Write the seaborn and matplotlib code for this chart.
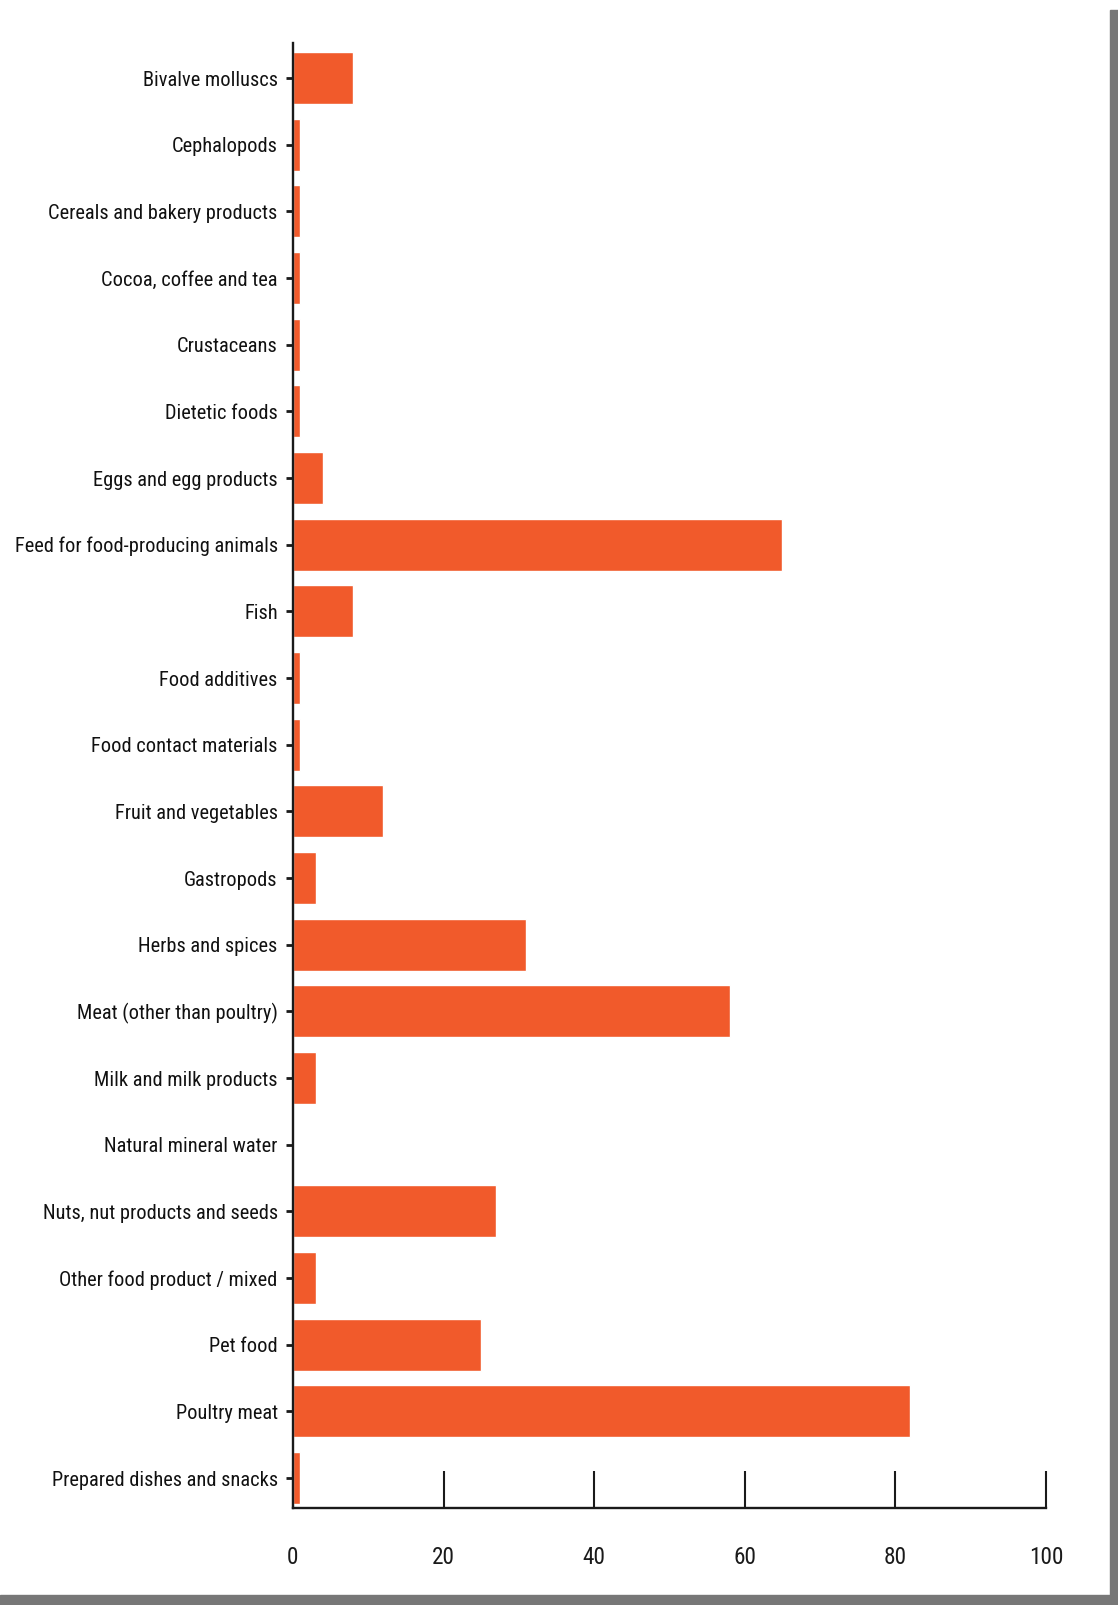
import matplotlib
matplotlib.use("Agg")
import matplotlib.pyplot as plt
from matplotlib import font_manager
import seaborn as sns
import pandas as pd
from matplotlib.patches import Rectangle

categories = [
    "Bivalve molluscs", "Cephalopods", "Cereals and bakery products",
    "Cocoa, coffee and tea", "Crustaceans", "Dietetic foods",
    "Eggs and egg products", "Feed for food-producing animals", "Fish",
    "Food additives", "Food contact materials", "Fruit and vegetables",
    "Gastropods", "Herbs and spices", "Meat (other than poultry)",
    "Milk and milk products", "Natural mineral water",
    "Nuts, nut products and seeds", "Other food product / mixed",
    "Pet food", "Poultry meat", "Prepared dishes and snacks",
]
values = [8, 1, 1, 1, 1, 1, 4, 65, 8, 1, 1, 12, 3, 31, 58, 3, 0, 27, 3, 25, 82, 1]
x_ticks = [0, 20, 40, 60, 80, 100]

df = pd.DataFrame({"category": categories, "value": values})

sns.set_theme(style="white")

# choose a condensed face if one is installed
names = {f.name for f in font_manager.fontManager.ttflist}
family = "Liberation Sans"
for cand in ["Roboto Condensed", "Liberation Sans Narrow", "Open Sans Condensed",
             "Noto Sans Condensed"]:
    if cand in names:
        family = cand
        break

plt.rcParams["font.family"] = [family, "DejaVu Sans"]

fig = plt.figure(figsize=(11.18, 16.05), dpi=100)
ax = fig.add_axes([0.262, 0.0604, 0.6736, 0.9128])

sns.barplot(data=df, x="value", y="category", orient="h", color="#F15A2B",
            saturation=1, width=0.78, ax=ax)

ax.set_xlim(0, 100)
ax.set_ylim(len(categories) - 1 + 0.45, -0.525)
ax.set_xticks(x_ticks)
ax.set_xticklabels([str(t) for t in x_ticks])
ax.set_xlabel("")
ax.set_ylabel("")

for s in ["top", "right"]:
    ax.spines[s].set_visible(False)
for s in ["left", "bottom"]:
    ax.spines[s].set_color("#1a1a1a")
    ax.spines[s].set_linewidth(1.7)

# fit label size so the longest label spans about 263 px
renderer = fig.canvas.get_renderer()
probe = fig.text(0, 0, "Feed for food-producing animals", fontsize=20)
w = probe.get_window_extent(renderer).width
probe.remove()
lsize = min(18, 20 * 262 / w)

ax.tick_params(axis="x", direction="in", length=27, width=1.5, color="#1a1a1a",
               bottom=True, pad=27, labelsize=lsize + 2, labelcolor="#1a1a1a")
ax.tick_params(axis="y", direction="out", length=5, width=2.0, color="#1a1a1a",
               left=True, pad=6, labelsize=lsize, labelcolor="#111111")

# grey frame shadow
fig.patches.append(Rectangle((1110 / 1118, 0), 8 / 1118, 1 - 10 / 1605,
                             transform=fig.transFigure, color="#777777", zorder=0))
fig.patches.append(Rectangle((0, 0), 1, 10 / 1605,
                             transform=fig.transFigure, color="#777777", zorder=0))

fig.savefig("out.png", dpi=100)
